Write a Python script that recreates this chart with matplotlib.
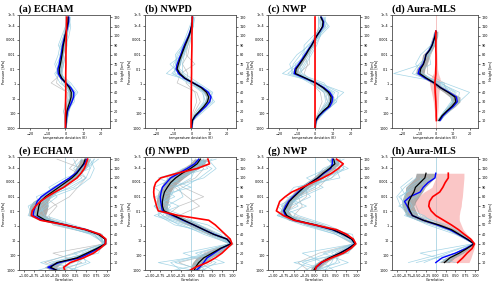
import numpy as np
import matplotlib
matplotlib.use("Agg")
import matplotlib.pyplot as plt

# height levels (km)
z5 = [0, 5, 10, 15, 20, 25, 30, 35, 40, 45, 50, 55, 60, 65, 70, 75, 80, 85, 90, 95, 100, 105, 110, 115, 120]
z10 = [0, 10, 20, 30, 40, 50, 60, 70, 80, 90, 100, 110, 120]
z5_mls = [10, 15, 20, 25, 30, 35, 40, 45, 50, 55, 60, 65, 70, 75, 80, 85, 90, 95, 100, 105]
z10_mls = [10, 20, 30, 40, 50, 60, 70, 80, 90, 100]

# pressure tick labels on the height axis
p_labels = ["1000", "100", "10", "1", "0.1", "0.01", "0.001", "1e-4", "1e-5"]
p_heights = [2, 18, 33, 49, 64.5, 80, 96, 111, 122.5]
h_ticks = [10, 20, 30, 40, 50, 60, 70, 80, 90, 100, 110, 120]

titles = ["(a) ECHAM", "(b) NWPD", "(c) NWP", "(d) Aura-MLS",
          "(e) ECHAM", "(f) NWPD", "(g) NWP", "(h) Aura-MLS"]

# ---------------- temperature deviation (K) ----------------
black_a = [0, 0.2, 0.4, 0.6, 0.8, 1.6, 2.5, 3.2, 3.3, 2.2, 0.2, -2.0, -3.3, -3.4, -2.8, -2.3, -1.9, -1.5, -1.2, -0.6, -0.2, 0.4, 1.0, 1.4, 1.5]
blue_a = [0, 0.2, 0.5, 0.8, 1.2, 2.4, 3.6, 4.6, 4.7, 3.0, 0.3, -2.5, -4.0, -4.2, -3.4, -3.0, -2.4, -2.0, -1.6, -1.0, -0.3, 0.6, 1.3, 1.8, 1.9]
red_a = [0, 0, 0.1, 0.1, 0.2, 0.2, 0.2, 0.3, 0.3, 0.4, 0.5, 0.6, 0.7]
spread_a = [0.3, 0.4, 0.5, 0.6, 0.8, 1.0, 1.3, 1.5, 1.5, 1.3, 1.0, 1.2, 1.3, 1.2, 1.0, 0.9, 0.8, 0.8, 0.7, 0.7, 0.6, 0.6, 0.6, 0.6, 0.6]
members_a = [[0, 1, 2, 4, 6, 1, -5, -4, -3, -2, 0, 2, 3],
             [0, -0.5, 0, 2, 3, -1, -2, -1, 0, 1, 1, 0, 1],
             [0, 0.5, 1, 5, 5, 2, -4, -6, -4, -3, -1, 1, 2],
             [0, 0, -1, 1, 2, -2, -3, -1, -2, 0, 2, 3, 2],
             [0, 1, 2, 3, 4, 0, -5, -3, -1, -4, -2, 0, 1],
             [0, 0.5, 1, 3, 7, 3, -3, -5, -2, -1, 1, 2, 2],
             [0, -0.5, 0.5, 2, 4, -3, -6, -2, -3, 0, 1, 1, 0],
             [0, 1, 1.5, 3, 2, 0, -2, -4, -1, -3, 0, 2, 1],
             [0, 0, 0, 1, 5, 1, -4, -2, -2, -1, -1, 0, 2]]
grey_a = [[0, 0, 0, 1, 1, -8, -2, -1, 0, -1, 0, 1, 1],
          [0, 0, -1, 0, 1, -5, -4, -2, -2, -2, -1, 1, 1]]

black_b = [0, 0.2, 0.5, 2, 4.5, 7, 9, 9.7, 8.5, 5.5, 1, -3.6, -6.5, -8, -7.3, -6.5, -5.5, -4.5, -3.5, -2.4, -1.3, -0.5, 0, 0.5, 0.5]
blue_b = [0, 0.3, 0.6, 2.4, 5.2, 8, 10.2, 11, 9.5, 6, 1, -4, -7.2, -8.6, -8, -7, -6, -5, -4, -2.8, -1.6, -0.7, 0, 0.5, 0.6]
red_b = [-0.2, -0.2, -0.1, -0.1, 0, 0, 0.1, 0.1, 0.2, 0.3, 0.3, 0.4, 0.5]
spread_b = [0.3, 0.4, 0.5, 0.8, 1.0, 1.2, 1.4, 1.5, 1.5, 1.2, 1.0, 1.0, 1.0, 0.9, 0.8, 0.7, 0.6, 0.6, 0.5, 0.5, 0.4, 0.4, 0.4, 0.4, 0.4]
members_b = [[0, 1, 6, 12, 11, 2, -9, -10, -7, -5, -2, 1, 1],
             [0, 0, 3, 7, 7, 0, -5, -5, -4, -2, 0, 0, 0],
             [0, 1, 5, 11, 10, 3, -14, -8, -9, -5, -3, -1, 1],
             [0, 0, 4, 8, 6, -1, -7, -12, -5, -3, -1, 1, 2],
             [0, 1, 5, 10, 12, 4, -4, -9, -8, -4, -2, 0, 0],
             [0, 0.5, 4, 9, 9, 1, -8, -6, -6, -4, -1, 0, 1],
             [0, 1, 7, 13, 9, -2, -10, -7, -4, -3, -2, 1, 1],
             [0, 0, 3, 8, 10, 2, -6, -9, -6, -5, -1, 0, 0],
             [0, 0.5, 5, 10, 7, 0, -11, -6, -5, -2, 0, 1, 1]]
grey_b = [[0, 0, 1, 3, 2, -3, -2, -5, -2, -1, 0, 0, 0],
          [0, 0, 2, 5, 3, -8, -6, 2, -3, -2, -1, 0, 0]]

black_c = [0, 0.2, 0.5, 2, 4.5, 7.5, 8.7, 9, 7.5, 4.5, 0.5, -5, -10.8, -10.4, -8.5, -6.7, -5, -3.5, -1.8, -0.4, 1, 2.7, 4.2, 4.5, 3.3]
blue_c = [0, 0.2, 0.6, 2.3, 5, 8.2, 9.5, 9.8, 8.2, 5, 0.5, -5.5, -11.5, -11, -9, -7.2, -5.5, -3.8, -2, -0.5, 1, 2.8, 4.5, 4.8, 3.5]
red_c = [0, 0, 0, 0, 0, 0, 0, 0, 0, 0, 0, 0, 0]
spread_c = [0.3, 0.4, 0.6, 0.8, 1.0, 1.2, 1.4, 1.5, 1.4, 1.2, 1.0, 1.2, 1.4, 1.3, 1.2, 1.0, 0.9, 0.8, 0.8, 0.8, 0.8, 0.8, 0.8, 0.8, 0.8]
members_c = [[0, 1, 6, 12, 13, 3, -13, -12, -8, -4, 2, 7, 5],
             [0, 0, 3, 6, 5, -2, -8, -5, -2, 1, 3, 2, 2],
             [0, 1, 5, 10, 16, 2, -18, -10, -6, -6, -1, 5, 6],
             [0, 0, 4, 7, 6, -3, -12, -14, -10, -3, 3, 8, 4],
             [0, 1, 6, 11, 9, 5, -9, -6, -3, 0, 0, 3, 2],
             [0, 0, 3, 9, 10, 0, -15, -9, -4, -2, 2, 6, 3],
             [0, 0.5, 5, 9, 8, 1, -11, -7, -7, -2, 1, 4, 3],
             [0, 1, 4, 8, 11, 2, -10, -11, -4, -1, 2, 5, 4],
             [0, 0, 6, 12, 7, -1, -13, -8, -5, -3, 0, 6, 5],
             [0, 1, 4, 8, 7, 1, -7, -9, -6, 0, 3, 4, 2]]
grey_c = [[0, 0, 2, 4, 3, -2, -6, -4, -6, -1, 1, 2, 2],
          [0, 0, 3, 7, 5, -1, -9, -3, -3, -2, 0, 3, 3]]

black_d = [1.8, 3.6, 6.4, 9.5, 11.8, 11.3, 7.3, 2.7, -0.9, -5.5, -9.5, -9, -7.3, -6.4, -5.8, -3.6, -2.2, -1.3, -0.4, 0]
blue_d = [2.4, 4.2, 7.0, 10.3, 12.7, 12.2, 7.8, 2.8, -1.0, -6.2, -10.5, -9.7, -7.6, -6.5, -5.9, -3.8, -2.3, -1.4, -0.5, 0]
red_d = [0.3, 0.2, 0.2, 0.1, 0.0, -0.2, -0.4, -0.5, -0.6, -0.3, 0, 0, 0.1, 0.1, 0.1, 0, 0, 0, 0, 0]
spread_d = [0.8, 1.0, 1.5, 2.0, 2.5, 3.0, 2.5, 2.0, 1.5, 2.0, 2.5, 2.5, 2.0, 2.0, 2.0, 1.5, 1.5, 1.5, 1.5, 1.2]
red_spread_d = [0.5, 0.7, 1.0, 1.3, 1.5, 1.8, 2.2, 2.8, 3.2, 2.8, 1.5, 1.0, 0.8, 0.7, 0.6, 0.6, 0.6, 0.6, 0.5, 0.5]
members_d = [[2, 8, 14, 20, 5, -25, -8, -6, -2, 0],
             [1, 5, 10, 9, 0, -14, -10, -4, -1, 0],
             [3, 7, 13, 14, 2, -8, -12, -9, -3, 1],
             [1, 6, 10, 8, 4, -12, -3, -4, -2, 0],
             [2, 6, 11, 12, 3, -10, -7, -6, -3, 0],
             [1, 5, 9, 11, 1, -9, -9, -5, -2, 0]]
grey_d = [[2, 8, 13, 6, 5, -5, -5, -3, -1, 0]]

# ---------------- correlation ----------------
black_e = [-0.12, -0.36, -0.2, 0.28, 0.52, 0.76, 0.97, 0.96, 0.8, 0.48, 0, -0.48, -0.68, -0.66, -0.64, -0.6, -0.48, -0.32, -0.16, 0, 0.16, 0.28, 0.36, 0.44, 0.48]
blue_e = [-0.1, -0.42, -0.15, 0.35, 0.58, 0.8, 0.97, 0.97, 0.82, 0.5, 0.0, -0.55, -0.78, -0.76, -0.72, -0.68, -0.58, -0.42, -0.25, -0.08, 0.1, 0.25, 0.36, 0.46, 0.52]
red_e = [0.0, -0.04, 0.12, 0.44, 0.68, 0.84, 0.97, 0.98, 0.84, 0.5, 0.0, -0.6, -0.82, -0.8, -0.72, -0.6, -0.44, -0.25, -0.04, 0.12, 0.28, 0.38, 0.46, 0.5, 0.54]
spread_e = [0.1, 0.15, 0.12, 0.12, 0.1, 0.08, 0.03, 0.03, 0.06, 0.1, 0.1, 0.15, 0.2, 0.22, 0.22, 0.18, 0.12, 0.1, 0.1, 0.1, 0.1, 0.1, 0.12, 0.12, 0.12]
members_e = [[-0.3, 0.2, 0.7, 0.95, 0.7, -0.2, -0.9, -0.8, -0.3, 0.3, 0.6, 0.7, 0.6],
             [0.1, -0.6, 0.3, 0.9, 0.9, 0.2, -0.5, -0.6, -0.7, -0.2, 0.2, 0.5, 0.8],
             [-0.5, 0.5, 0.4, 0.98, 0.6, -0.1, -0.8, -0.9, -0.5, 0.0, 0.4, 0.2, 0.4],
             [0.3, -0.2, 0.8, 0.9, 0.85, 0.1, -0.7, -0.5, -0.2, -0.4, 0.0, 0.6, 0.7],
             [-0.8, 0.0, 0.5, 0.97, 0.8, 0.0, -0.6, -0.7, -0.6, -0.1, 0.3, 0.3, 0.2],
             [0.2, 0.3, 0.6, 0.97, 0.75, 0.0, -0.8, -0.7, -0.4, 0.1, 0.5, 0.6, 0.5],
             [-0.4, -0.3, 0.5, 0.93, 0.8, 0.1, -0.85, -0.6, -0.3, -0.1, 0.3, 0.5, 0.4],
             [0.0, 0.6, 0.2, 0.96, 0.65, -0.2, -0.7, -0.85, -0.55, 0.2, 0.5, 0.3, 0.6],
             [0.5, -0.4, 0.6, 0.94, 0.7, 0.05, -0.75, -0.4, -0.6, -0.3, 0.1, 0.5, 0.7]]
grey_e = [[0.2, -0.5, 0.2, 0.9, 0.7, -0.3, -0.4, -0.2, -0.5, -0.3, 0.2, 0.4, -0.2],
          [-0.2, 0.4, -0.3, 0.95, 0.8, 0.1, -0.6, -0.3, 0.1, 0.3, 0.5, 0.1, 0.3]]

black_f = [0.06, 0.1, 0.18, 0.3, 0.5, 0.7, 0.96, 0.86, 0.54, 0.3, 0.06, -0.18, -0.42, -0.66, -0.7, -0.7, -0.68, -0.65, -0.58, -0.5, -0.38, -0.22, -0.02, 0.14, 0.22]
blue_f = [0.08, 0.2, 0.3, 0.38, 0.55, 0.72, 0.96, 0.86, 0.55, 0.3, 0.06, -0.2, -0.45, -0.7, -0.72, -0.74, -0.75, -0.73, -0.7, -0.6, -0.5, -0.3, -0.1, 0.08, 0.18]
red_f = [-0.1, 0.1, 0.38, 0.58, 0.74, 0.86, 0.98, 0.94, 0.82, 0.7, 0.58, 0.42, -0.3, -0.8, -0.84, -0.87, -0.9, -0.91, -0.9, -0.86, -0.74, -0.34, 0.14, 0.44, 0.4]
spread_f = [0.1, 0.12, 0.15, 0.18, 0.2, 0.15, 0.05, 0.08, 0.12, 0.15, 0.15, 0.15, 0.12, 0.1, 0.12, 0.15, 0.15, 0.15, 0.15, 0.18, 0.2, 0.2, 0.2, 0.18, 0.15]
members_f = [[0.5, -0.4, 0.6, 0.95, 0.3, -0.2, -0.9, -0.3, -0.8, -0.5, 0.3, 0.6, 0.4],
             [-0.3, 0.8, 0.2, 0.9, 0.8, 0.4, -0.5, -0.9, -0.4, -0.7, -0.2, 0.1, 0.3],
             [0.2, -0.8, 0.7, 0.97, 0.6, 0.0, -0.7, -0.5, -0.9, 0.0, -0.6, -0.2, 0.6],
             [-0.6, 0.4, -0.2, 0.92, 0.5, 0.2, -0.2, -0.8, -0.6, -0.9, -0.4, 0.4, 0.2],
             [0.4, 0.1, 0.5, 0.96, 0.7, -0.4, -0.8, -0.6, -0.2, -0.3, -0.8, 0.0, 0.5],
             [0.1, 0.3, 0.5, 0.94, 0.6, 0.1, -0.6, -0.7, -0.7, -0.6, -0.3, 0.2, 0.3],
             [-0.2, -0.5, 0.4, 0.96, 0.5, -0.1, -0.8, -0.8, -0.5, -0.4, 0.0, 0.1, 0.2],
             [0.6, 0.2, 0.7, 0.93, 0.7, 0.2, -0.5, -0.6, -0.8, -0.7, -0.5, -0.1, 0.4],
             [0.2, 0.6, 0.1, 0.95, 0.4, -0.3, -0.7, -0.9, -0.6, -0.2, 0.2, 0.5, 0.1]]
grey_f = [[0.0, 0.5, 0.3, 0.9, 0.4, 0.1, -0.3, 0.2, -0.1, -0.4, 0.1, 0.3, 0.1],
          [0.3, -0.3, 0.6, 0.95, 0.6, -0.1, -0.6, -0.3, 0.3, -0.2, -0.5, 0.2, 0.0]]

black_g = [-0.05, 0.02, 0.15, 0.35, 0.6, 0.8, 0.96, 0.88, 0.68, 0.43, 0.02, -0.47, -0.67, -0.73, -0.67, -0.61, -0.5, -0.38, -0.26, -0.1, 0.07, 0.2, 0.35, 0.48, 0.45]
blue_g = [-0.03, 0.04, 0.17, 0.37, 0.6, 0.8, 0.96, 0.88, 0.68, 0.42, 0.0, -0.5, -0.7, -0.75, -0.7, -0.63, -0.52, -0.4, -0.27, -0.1, 0.08, 0.22, 0.38, 0.42, 0.42]
red_g = [0.0, 0.03, 0.15, 0.4, 0.68, 0.86, 0.98, 0.92, 0.76, 0.52, 0.0, -0.5, -0.75, -0.92, -0.88, -0.84, -0.71, -0.55, -0.3, -0.06, 0.19, 0.4, 0.56, 0.68, 0.52]
spread_g = [0.08, 0.1, 0.1, 0.12, 0.12, 0.08, 0.03, 0.05, 0.08, 0.12, 0.15, 0.15, 0.12, 0.1, 0.1, 0.1, 0.1, 0.12, 0.12, 0.12, 0.12, 0.12, 0.12, 0.1, 0.1]
members_g = [[0.3, -0.5, 0.8, 0.95, 0.5, -0.3, -0.9, -0.4, -0.6, -0.1, 0.4, 0.7, 0.6],
             [-0.2, 0.6, 0.4, 0.92, 0.8, 0.3, -0.4, -0.8, -0.3, 0.2, -0.2, 0.3, 0.5],
             [0.5, 0.2, -0.3, 0.97, 0.7, 0.0, -0.8, -0.2, -0.7, -0.5, 0.6, 0.5, 0.3],
             [-0.5, -0.2, 0.6, 0.9, 0.6, 0.1, -0.6, -0.9, -0.4, 0.0, 0.2, 0.8, 0.4],
             [0.1, 0.8, 0.2, 0.96, 0.9, -0.2, -0.7, -0.6, -0.1, -0.3, 0.0, 0.2, 0.7],
             [0.2, 0.4, 0.5, 0.96, 0.7, 0.0, -0.7, -0.7, -0.5, -0.2, 0.1, 0.4, 0.5],
             [-0.3, 0.1, 0.7, 0.94, 0.6, -0.1, -0.85, -0.6, -0.4, -0.3, 0.3, 0.6, 0.3],
             [0.4, -0.3, 0.3, 0.92, 0.8, 0.2, -0.6, -0.8, -0.6, 0.0, 0.1, 0.3, 0.6],
             [0.0, 0.5, 0.6, 0.97, 0.5, -0.2, -0.9, -0.7, -0.3, -0.4, 0.2, 0.7, 0.4]]
grey_g = [[0.0, 0.3, 0.5, 0.9, 0.5, 0.2, -0.5, -0.3, -0.4, 0.1, 0.3, 0.5, 0.4],
          [-0.1, -0.4, 0.1, 0.93, 0.7, -0.2, -0.8, -0.5, -0.2, -0.2, 0.4, 0.6, 0.5]]

black_h = [0.22, 0.36, 0.6, 0.8, 0.98, 0.8, 0.6, 0.4, 0.08, -0.32, -0.6, -0.66, -0.71, -0.69, -0.63, -0.56, -0.52, -0.4, -0.28, -0.25]
blue_h = [0.0, 0.16, 0.5, 0.77, 0.98, 0.79, 0.58, 0.36, 0.04, -0.32, -0.6, -0.68, -0.73, -0.8, -0.66, -0.4, -0.32, -0.2, -0.02, 0.0]
red_h = [0.56, 0.69, 0.8, 0.93, 0.99, 0.89, 0.73, 0.58, 0.4, 0.2, 0.0, -0.12, -0.18, -0.16, -0.08, 0.1, 0.18, 0.24, 0.32, 0.32]
spread_h = [0.12, 0.12, 0.1, 0.06, 0.02, 0.06, 0.08, 0.1, 0.12, 0.15, 0.15, 0.15, 0.15, 0.18, 0.2, 0.22, 0.25, 0.25, 0.25, 0.25]
red_lo_h = [0.25, 0.45, 0.65, 0.86, 0.97, 0.82, 0.6, 0.4, 0.15, -0.1, -0.35, -0.5, -0.55, -0.55, -0.45, -0.3, -0.1, -0.05, 0.0, 0.0]
red_hi_h = [0.85, 0.9, 0.94, 0.98, 1.0, 0.93, 0.8, 0.7, 0.65, 0.6, 0.6, 0.62, 0.65, 0.66, 0.68, 0.69, 0.7, 0.71, 0.72, 0.72]
members_h = [[-0.3, 0.3, 0.97, 0.6, 0.1, -0.7, -0.9, -1.0, -0.8, -0.5],
             [0.5, -0.4, 0.95, 0.7, 0.3, -0.5, -0.8, -0.9, -0.6, -0.2],
             [0.1, 0.6, 0.98, 0.65, -0.1, -0.8, -0.6, -0.75, -0.9, -0.6],
             [-0.5, 0.5, 0.96, 0.55, 0.0, -0.3, -0.95, -0.5, -0.3, -0.4],
             [-0.7, 0.2, 0.96, 0.6, 0.05, -0.6, -0.85, -0.8, -0.7, -0.3],
             [0.3, 0.5, 0.97, 0.5, -0.2, -0.75, -0.7, -0.95, -0.5, -0.1]]
grey_h = [[0.3, 0.7, 0.97, 0.7, 0.2, -0.4, -0.5, -0.6, -0.3, -0.2]]

LBLUE = "#8fcbe0"
GREY = "#b4b4b4"
FS = 2.4  # tiny tick / label font

fig = plt.figure(figsize=(5, 2.84), dpi=100)

lefts = [0.038, 0.290, 0.536, 0.784]
widths = [0.182, 0.182, 0.184, 0.172]
bottoms = [0.549, 0.049]
height = 0.399


def draw_panel(ax, zm, members, greys, zl, black, blue, red, spread, zr, red_band=None):
    # ensemble members
    for m in greys:
        ax.plot(m, zm, color=GREY, lw=0.5, alpha=0.8)
    for m in members:
        ax.plot(m, zm, color=LBLUE, lw=0.5, alpha=0.8)
    black = np.array(black)
    spread = np.array(spread)
    if red_band is not None:
        ax.fill_betweenx(zl, red_band[0], red_band[1], color="#f7a0a0", alpha=0.6, lw=0)
    ax.fill_betweenx(zl, black - spread, black + spread, color="#808080", alpha=0.65, lw=0)
    ax.plot(blue, zl, color="blue", lw=1.0)
    ax.plot(black, zl, color="black", lw=0.9)
    ax.plot(red, zr, color="red", lw=1.2)


panels = [
    (z10, members_a, grey_a, z5, black_a, blue_a, red_a, spread_a, z10, None),
    (z10, members_b, grey_b, z5, black_b, blue_b, red_b, spread_b, z10, None),
    (z10, members_c, grey_c, z5, black_c, blue_c, red_c, spread_c, z10, None),
    (z10_mls, members_d, grey_d, z5_mls, black_d, blue_d, red_d, spread_d, z5_mls,
     (np.array(red_d) - np.array(red_spread_d), np.array(red_d) + np.array(red_spread_d))),
    (z10, members_e, grey_e, z5, black_e, blue_e, red_e, spread_e, z5, None),
    (z10, members_f, grey_f, z5, black_f, blue_f, red_f, spread_f, z5, None),
    (z10, members_g, grey_g, z5, black_g, blue_g, red_g, spread_g, z5, None),
    (z10_mls, members_h, grey_h, z5_mls, black_h, blue_h, red_h, spread_h, z5_mls, (red_lo_h, red_hi_h)),
]

for i, p in enumerate(panels):
    row, col = divmod(i, 4)
    ax = fig.add_axes([lefts[col], bottoms[row], widths[col], height])
    if row == 0:
        ax.axvline(0, color="#f4b8b8", lw=0.6, zorder=0)
    else:
        ax.axvline(0, color="#a9d3e3", lw=0.6, zorder=0)
    draw_panel(ax, *p)

    ax.set_ylim(2, 122.5)
    ax.set_yticks(p_heights)
    ax.set_yticklabels(p_labels)
    ax.set_ylabel("Pressure [hPa]", fontsize=FS, labelpad=0.5)
    if row == 0:
        ax.set_xlim(-26, 25)
        ax.set_xticks([-20, -10, 0, 10, 20])
        ax.set_xlabel("temperature deviation (K)", fontsize=FS, labelpad=0.5)
    else:
        ax.set_xlim(-1.12, 1.08)
        ax.set_xticks([-1.0, -0.75, -0.5, -0.25, 0.0, 0.25, 0.5, 0.75, 1.0])
        ax.set_xticklabels(["\u22121.00", "\u22120.75", "\u22120.50", "\u22120.25", "0.00", "0.25", "0.50", "0.75", "1.00"])
        ax.set_xlabel("Correlation", fontsize=FS, labelpad=0.5)
    ax.tick_params(labelsize=FS, length=1.5, width=0.4, pad=1)

    ax2 = ax.twinx()
    ax2.set_ylim(2, 122.5)
    ax2.set_yticks(h_ticks)
    ax2.set_ylabel("Height [km]", fontsize=FS, labelpad=0.5)
    ax2.tick_params(labelsize=FS, length=1.5, width=0.4, pad=1)

    for a in (ax, ax2):
        for s in a.spines.values():
            s.set_linewidth(0.4)
            s.set_color("#444444")

    ax.set_title(titles[i], loc="left", fontsize=7.5, fontweight="bold",
                 family="Liberation Serif", pad=2.5)

fig.savefig("out.png", dpi=100)
